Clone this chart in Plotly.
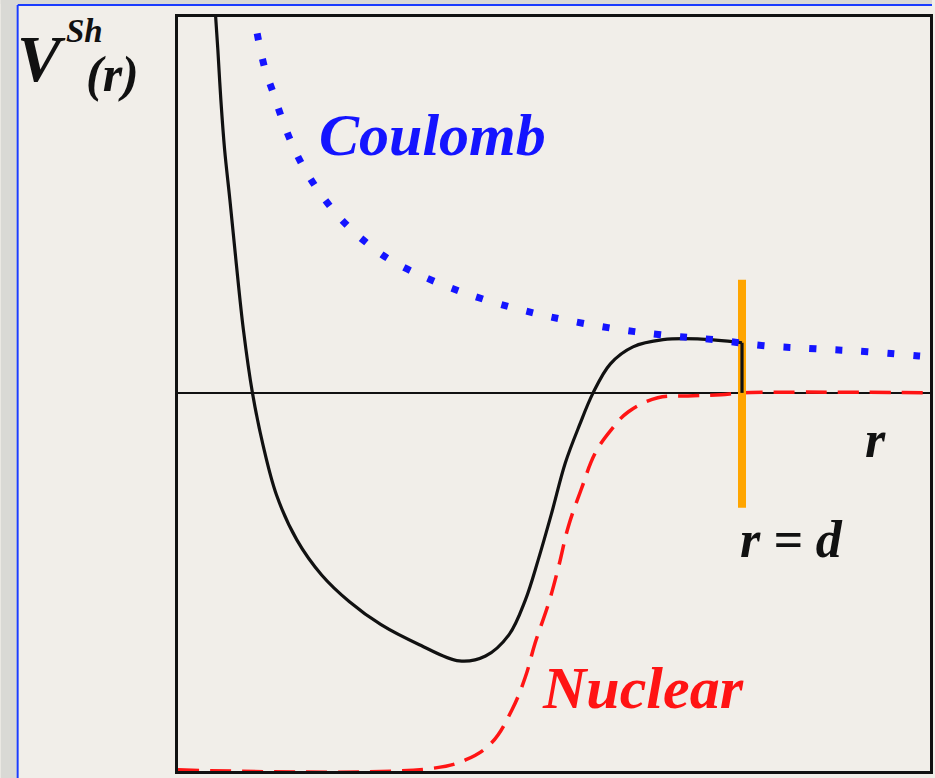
import plotly.graph_objects as go

# ---- data (r in arbitrary units 0..10, V in arbitrary units) ----
shell_r = [0.49, 0.53, 0.57, 0.62, 0.69, 0.77, 0.87, 0.99, 1.13, 1.31, 1.58, 1.91, 2.28, 2.70,
           3.21, 3.74, 4.09, 4.40, 4.62, 4.79, 4.97, 5.15, 5.34, 5.52, 5.75, 6.05, 6.45, 6.91, 7.50]
shell_v = [10.29, 9.10, 7.77, 6.45, 5.12, 3.53, 1.67, 0.00, -1.38, -2.71, -3.90, -4.83, -5.54, -6.15,
           -6.68, -7.11, -6.98, -6.42, -5.49, -4.43, -3.18, -1.86, -0.85, 0.00, 0.77, 1.22, 1.41, 1.43, 1.33]
cut_r = [7.50, 7.50]
cut_v = [1.33, 0.00]

nuclear_r = [0.00, 3.34, 3.83, 4.17, 4.44, 4.62, 4.75, 4.93, 5.06, 5.19, 5.36, 5.55, 5.76, 5.99,
             6.38, 6.78, 7.22, 7.51, 10.0]
nuclear_v = [-10.0, -9.97, -9.73, -9.28, -8.41, -7.53, -6.63, -5.57, -4.62, -3.55, -2.57, -1.59,
             -0.98, -0.50, -0.13, -0.08, -0.05, 0.00, 0.00]

coulomb_r = [0.99, 1.02, 1.08, 1.16, 1.27, 1.38, 1.51, 1.66, 1.84, 2.05, 2.28, 2.54, 2.82, 3.42,
             4.07, 4.73, 5.09, 5.75, 6.42, 7.13, 7.80, 8.48, 9.17, 9.85, 10.03]
coulomb_v = [10.21, 9.89, 9.26, 8.57, 7.94, 7.29, 6.63, 6.02, 5.44, 4.88, 4.38, 3.93, 3.53, 2.95,
             2.48, 2.12, 1.96, 1.72, 1.54, 1.41, 1.25, 1.17, 1.09, 0.98, 0.95]

d_r = [7.50, 7.50]
d_v = [3.00, -3.05]

# ---- figure ----
W, H = 935, 778
ML, MR, MT, MB = 178, 2, 17, 7
PW, PH = W - ML - MR, H - MT - MB

def px(x):
    return (x - ML) / PW

def py(y):
    return (H - MB - y) / PH

BEIGE = "#f1eee9"
GRAY = "#d9d9d5"
SERIF = "Liberation Serif"

fig = go.Figure()

fig.add_trace(go.Scatter(x=nuclear_r, y=nuclear_v, mode="lines",
                         line=dict(color="#ff1414", width=3.5, dash="21px,11px", shape="spline",
                                   smoothing=1.1),
                         hoverinfo="skip", showlegend=False))
fig.add_trace(go.Scatter(x=d_r, y=d_v, mode="lines",
                         line=dict(color="#ffa500", width=8),
                         hoverinfo="skip", showlegend=False))
fig.add_trace(go.Scatter(x=shell_r, y=shell_v, mode="lines",
                         line=dict(color="#111111", width=3.2, shape="spline", smoothing=1.0),
                         hoverinfo="skip", showlegend=False))
fig.add_trace(go.Scatter(x=cut_r, y=cut_v, mode="lines",
                         line=dict(color="#111111", width=3.2),
                         hoverinfo="skip", showlegend=False))
fig.add_trace(go.Scatter(x=coulomb_r, y=coulomb_v, mode="lines",
                         line=dict(color="#1414ff", width=7, dash="7px,19px", shape="spline",
                                   smoothing=1.1),
                         hoverinfo="skip", showlegend=False))

shapes = [
    # gray textured margins
    dict(type="rect", xref="paper", yref="paper", x0=px(0), x1=px(16), y0=py(H), y1=py(0),
         fillcolor=GRAY, line_width=0, layer="below"),
    dict(type="rect", xref="paper", yref="paper", x0=px(0), x1=px(W), y0=py(4), y1=py(0),
         fillcolor=GRAY, line_width=0, layer="below"),
    # blue frame
    dict(type="line", xref="paper", yref="paper", x0=px(17), x1=px(17), y0=py(5), y1=py(H),
         line=dict(color="#1a3cff", width=2)),
    dict(type="line", xref="paper", yref="paper", x0=px(17), x1=px(W), y0=py(5), y1=py(5),
         line=dict(color="#1a3cff", width=2)),
]

anns = [
    dict(text="Coulomb", x=3.39, y=6.84, color="#1414ff", size=60),
    dict(text="Nuclear", x=6.19, y=-7.82, color="#ff1414", size=60),
    dict(text="r", x=9.28, y=-1.25, color="#111111", size=52),
    dict(text="r = d", x=8.16, y=-3.90, color="#111111", size=52),
]
annotations = []
for a in anns:
    annotations.append(dict(text=a["text"], x=a["x"], y=a["y"], xref="x", yref="y",
                            showarrow=False, xanchor="center", yanchor="middle",
                            font=dict(family=SERIF, size=a["size"], color=a["color"],
                                      weight="bold", style="italic")))
# axis title V^Sh(r)
annotations += [
    dict(text="V", x=px(14), y=py(58), xref="paper", yref="paper", showarrow=False,
         xanchor="left", yanchor="middle",
         font=dict(family=SERIF, size=66, color="#111111", weight="bold", style="italic")),
    dict(text="Sh", x=px(64), y=py(31), xref="paper", yref="paper", showarrow=False,
         xanchor="left", yanchor="middle",
         font=dict(family=SERIF, size=33, color="#111111", weight="bold", style="italic")),
    dict(text="(r)", x=px(84), y=py(74), xref="paper", yref="paper", showarrow=False,
         xanchor="left", yanchor="middle",
         font=dict(family=SERIF, size=50, color="#111111", weight="bold", style="italic")),
]

fig.update_layout(
    width=W, height=H,
    margin=dict(l=ML, r=MR, t=MT, b=MB, pad=0),
    paper_bgcolor=BEIGE, plot_bgcolor=BEIGE,
    shapes=shapes, annotations=annotations,
    xaxis=dict(range=[0, 10], showgrid=False, zeroline=False, showticklabels=False, ticks="",
               showline=True, mirror=True, linecolor="#111111", linewidth=2.5, fixedrange=True),
    yaxis=dict(range=[-10.03, 9.97], showgrid=False, zeroline=True, zerolinecolor="#111111",
               zerolinewidth=2, showticklabels=False, ticks="",
               showline=True, mirror=True, linecolor="#111111", linewidth=2.5, fixedrange=True),
)

fig.write_html("out.html", config={"displayModeBar": False})
